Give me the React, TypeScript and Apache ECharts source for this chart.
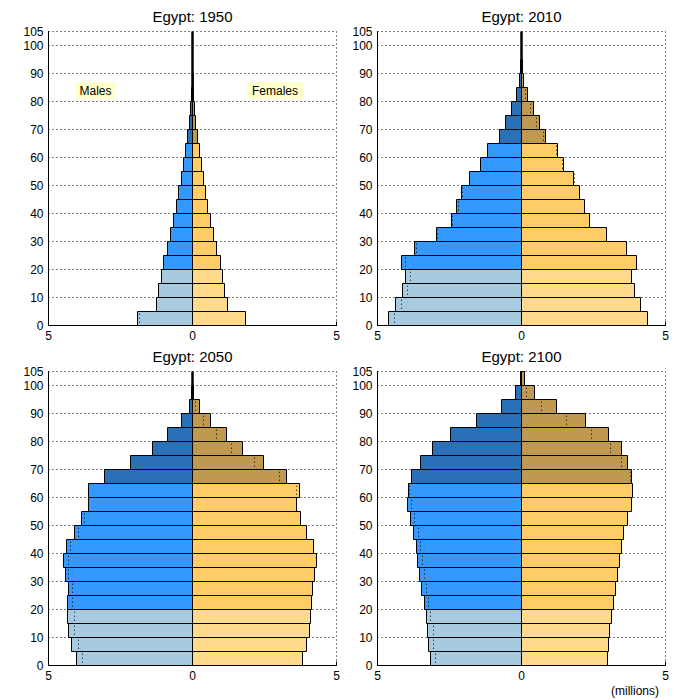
import React, { useEffect, useRef } from "react";
import * as echarts from "echarts";

const ageGroups = ["0-4","5-9","10-14","15-19","20-24","25-29","30-34","35-39","40-44","45-49","50-54","55-59","60-64","65-69","70-74","75-79","80-84","85-89","90-94","95-99","100+"];
const ageStarts = [0,5,10,15,20,25,30,35,40,45,50,55,60,65,70,75,80,85,90,95,100];
const years = ["1950", "2010", "2050", "2100"];
const xTicks = [-5, 0, 5];

// millions, per 5-year age group
const males1950 = [1.91,1.25,1.17,1.08,1.01,0.86,0.76,0.66,0.56,0.49,0.38,0.31,0.24,0.17,0.12,0.08,0.02,0.01,0,0,0];
const females1950 = [1.84,1.22,1.11,1.03,0.97,0.84,0.73,0.63,0.53,0.46,0.38,0.30,0.24,0.19,0.12,0.07,0.02,0.01,0,0,0];
const males2010 = [4.62,4.36,4.12,4.02,4.17,3.70,2.95,2.42,2.25,2.07,1.81,1.42,1.17,0.76,0.56,0.35,0.17,0.07,0.02,0,0];
const females2010 = [4.38,4.13,3.92,3.82,3.99,3.65,2.94,2.36,2.20,2.01,1.81,1.46,1.25,0.83,0.63,0.42,0.21,0.07,0.02,0,0];
const males2050 = [4.03,4.20,4.31,4.34,4.34,4.31,4.41,4.48,4.38,4.10,3.85,3.60,3.60,3.04,2.14,1.39,0.87,0.38,0.10,0.02,0];
const females2050 = [3.82,3.96,4.07,4.10,4.13,4.17,4.24,4.31,4.20,3.96,3.75,3.61,3.72,3.26,2.47,1.74,1.18,0.63,0.24,0.03,0];
const males2100 = [3.16,3.23,3.26,3.30,3.37,3.47,3.54,3.61,3.65,3.75,3.85,3.96,3.92,3.82,3.51,3.09,2.47,1.56,0.69,0.21,0.05];
const females2100 = [2.99,3.02,3.04,3.12,3.19,3.26,3.33,3.40,3.47,3.54,3.68,3.82,3.85,3.82,3.68,3.47,3.02,2.22,1.22,0.45,0.10];

// dotted comparison markers (null = none)
const mMark1950 = [1.85,null,null,null,null,null,null,null,null,null,null,null,null,null,null,null,null,null,null,null,null];
const fMark1950 = [null,null,null,null,null,null,null,null,null,null,null,null,null,null,null,null,null,null,null,null,null];
const mMark2010 = [4.42,4.18,3.96,3.87,4.04,3.68,2.94,2.40,2.22,2.05,null,null,null,null,null,null,null,null,null,null,null];
const fMark2010 = [null,null,null,null,null,null,2.94,null,null,null,1.81,1.42,1.20,0.73,0.52,0.31,0.13,0.04,null,null,null];
const mMark2050 = [3.85,3.99,4.10,4.13,4.17,4.20,4.31,4.34,4.27,3.99,3.78,null,null,null,null,null,null,null,null,null,null];
const fMark2050 = [null,null,null,null,null,null,null,null,null,null,null,3.58,3.58,3.01,2.12,1.35,0.83,0.35,0.07,null,null];
const mMark2100 = [3.02,3.06,3.09,3.19,3.25,3.30,3.37,3.44,3.51,3.58,3.72,3.85,3.89,null,null,null,null,null,null,null,null];
const fMark2100 = [null,null,null,null,null,null,null,null,null,null,null,null,null,3.78,3.47,3.06,2.43,1.53,0.66,0.17,null];

const maleSets = [males1950, males2010, males2050, males2100];
const femaleSets = [females1950, females2010, females2050, females2100];
const maleMarks = [mMark1950, mMark2010, mMark2050, mMark2100];
const femaleMarks = [fMark1950, fMark2010, fMark2050, fMark2100];

const maleColors = ["#a6cbe0", "#3399ff", "#2a70b8"];
const femaleColors = ["#ffd98c", "#ffcc66", "#bf994f"];
const groupOf = (i: number) => (i < 4 ? 0 : i < 13 ? 1 : 2);

const grids = [
  { left: 48.5, top: 31.5 },
  { left: 377.5, top: 31.5 },
  { left: 48.5, top: 371.5 },
  { left: 377.5, top: 371.5 },
];
const GW = 288;
const GH = 294;
const FONT = "'Liberation Sans', Arial, sans-serif";

const snap = (v: number) => Math.round(v - 0.5) + 0.5;

export default function App() {
  const ref = useRef<HTMLDivElement>(null);
  useEffect(() => {
    if (!ref.current) return;
    const chart = echarts.init(ref.current, null, { renderer: "svg" });
    const grid: any[] = [];
    const xAxis: any[] = [];
    const yAxis: any[] = [];
    const series: any[] = [];
    const graphic: any[] = [];

    const barRender = (palette: string[]) => (params: any, api: any) => {
      const v = api.value(0);
      if (!v) return null;
      const y = api.value(1);
      const g = api.value(2);
      const p0 = api.coord([0, y]);
      const p1 = api.coord([v, y + 5]);
      const x0 = snap(Math.min(p0[0], p1[0]));
      const x1 = snap(Math.max(p0[0], p1[0]));
      const y0 = snap(Math.min(p0[1], p1[1]));
      const y1 = snap(Math.max(p0[1], p1[1]));
      return {
        type: "rect",
        shape: { x: x0, y: y0, width: Math.max(x1 - x0, 0.5), height: y1 - y0 },
        style: { fill: palette[g], stroke: "#000", lineWidth: 1 },
      };
    };

    grids.forEach((g, k) => {
      grid.push({ left: g.left, top: g.top, width: GW, height: GH, containLabel: false });
      xAxis.push({
        type: "value",
        gridIndex: k,
        min: xTicks[0],
        max: xTicks[2],
        interval: 5,
        axisLine: { show: true, onZero: false, lineStyle: { color: "#000", width: 1 } },
        axisTick: { show: true, inside: true, length: 4, lineStyle: { color: "#000" } },
        axisLabel: {
          color: "#000",
          fontSize: 12,
          fontFamily: FONT,
          margin: 4,
          formatter: (v: number) => String(Math.abs(v)),
        },
        splitLine: { show: true, lineStyle: { color: "#000", type: [1, 3], width: 1 } },
      });
      yAxis.push({
        type: "value",
        gridIndex: k,
        min: 0,
        max: 105,
        interval: 10,
        axisLine: { show: true, onZero: false, lineStyle: { color: "#000", width: 1 } },
        axisTick: { show: false },
        axisLabel: { color: "#000", fontSize: 12, fontFamily: FONT, margin: 5 },
        splitLine: { show: true, lineStyle: { color: "#000", type: [1, 3], width: 1 } },
      });

      series.push({
        type: "line",
        xAxisIndex: k,
        yAxisIndex: k,
        data: [[0, 0], [0, 105]],
        symbol: "none",
        lineStyle: { color: "#000", width: 2.5 },
        z: 0,
        silent: true,
      });
      series.push({
        type: "custom",
        name: "Males",
        xAxisIndex: k,
        yAxisIndex: k,
        z: 5,
        silent: true,
        clip: false,
        data: maleSets[k].map((v, i) => [-v, ageStarts[i], groupOf(i), ageGroups[i]]),
        renderItem: barRender(maleColors),
      });
      series.push({
        type: "custom",
        name: "Females",
        xAxisIndex: k,
        yAxisIndex: k,
        z: 5,
        silent: true,
        clip: false,
        data: femaleSets[k].map((v, i) => [v, ageStarts[i], groupOf(i), ageGroups[i]]),
        renderItem: barRender(femaleColors),
      });
      const markData: any[] = [];
      maleMarks[k].forEach((v, i) => {
        if (v != null) markData.push([-v, ageStarts[i]]);
      });
      femaleMarks[k].forEach((v, i) => {
        if (v != null) markData.push([v, ageStarts[i]]);
      });
      series.push({
        type: "custom",
        xAxisIndex: k,
        yAxisIndex: k,
        z: 6,
        silent: true,
        data: markData,
        renderItem: (params: any, api: any) => {
          const x = api.value(0);
          const y = api.value(1);
          const p1 = api.coord([x, y + 1]);
          const p2 = api.coord([x, y + 4.2]);
          return {
            type: "line",
            shape: { x1: Math.round(p1[0]) + 0.5, y1: p1[1], x2: Math.round(p2[0]) + 0.5, y2: p2[1] },
            style: { stroke: "#000", lineWidth: 1, lineDash: [1, 3] },
          };
        },
      });

      graphic.push({
        type: "text",
        x: g.left + GW / 2,
        y: g.top - 15,
        style: {
          text: "Egypt: " + years[k],
          align: "center",
          verticalAlign: "middle",
          fontSize: 15,
          fontWeight: "normal",
          fontFamily: FONT,
          fill: "#000",
        },
      });
    });

    const small = { fontSize: 12, fontWeight: "normal", fontFamily: FONT, fill: "#000", align: "center", verticalAlign: "middle" };
    graphic.push(
      { type: "rect", shape: { x: 76, y: 82, width: 39, height: 17 }, style: { fill: "#ffffcc" } },
      { type: "text", x: 95.5, y: 90.5, style: { ...small, text: "Males" } },
      { type: "rect", shape: { x: 247, y: 82, width: 56, height: 17 }, style: { fill: "#ffffcc" } },
      { type: "text", x: 275, y: 90.5, style: { ...small, text: "Females" } },
      { type: "text", x: 635, y: 691, style: { ...small, text: "(millions)" } }
    );

    chart.setOption({
      animation: false,
      backgroundColor: "#fff",
      grid,
      xAxis,
      yAxis,
      series,
      graphic,
    });
    return () => chart.dispose();
  }, []);
  return (
    <div
      ref={ref}
      style={{ position: "fixed", left: 0, top: 0, width: 700, height: 700, background: "#fff" }}
    />
  );
}
